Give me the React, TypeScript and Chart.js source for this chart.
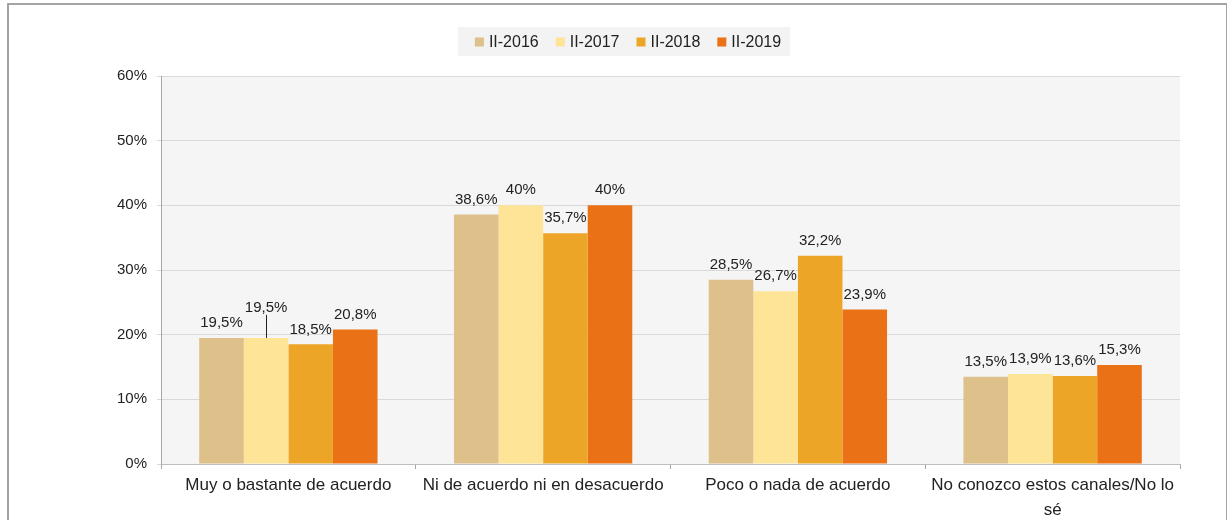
import React, { useEffect, useRef } from "react";
import { Chart, registerables } from "chart.js";

Chart.register(...registerables);

const categories: (string | string[])[] = [
  "Muy o bastante de acuerdo",
  "Ni de acuerdo ni en desacuerdo",
  "Poco o nada de acuerdo",
  ["No conozco estos canales/No lo", "sé"],
];
const seriesNames = ["II-2016", "II-2017", "II-2018", "II-2019"];
const s2016 = [19.5, 38.6, 28.5, 13.5];
const s2017 = [19.5, 40, 26.7, 13.9];
const s2018 = [18.5, 35.7, 32.2, 13.6];
const s2019 = [20.8, 40, 23.9, 15.3];
const yTicks = [0, 10, 20, 30, 40, 50, 60];

const COLORS = ["#DEC08A", "#FEE497", "#EDA528", "#EB7116"];
// extra lift (px) for labels that sit on a leader line: [series][category]
const LABEL_LIFT = [
  [0, 0, 0, 0],
  [15, 0, 0, 0],
  [0, 0, 0, 0],
  [0, 0, 0, 0],
];
const FONT = "'Liberation Sans', Arial, sans-serif";

const fmt = (v: number) => String(v).replace(".", ",") + "%";

const bgPlugin = {
  id: "bgPlugin",
  beforeDraw(chart: any) {
    const { ctx, chartArea } = chart;
    ctx.save();
    ctx.fillStyle = "#ffffff";
    ctx.fillRect(0, 0, chart.width, chart.height);
    ctx.fillStyle = "#f5f5f5";
    ctx.fillRect(chartArea.left, chartArea.top, chartArea.right - chartArea.left, chartArea.bottom - chartArea.top);
    // legend
    ctx.font = `16px ${FONT}`;
    const box = 9, gap = 5, itemGap = 17;
    const widths = seriesNames.map((n) => ctx.measureText(n).width);
    const total = widths.reduce((a, w) => a + box + gap + w, 0) + itemGap * (seriesNames.length - 1);
    const cx = 628;
    let x = cx - total / 2;
    const cy = 42;
    ctx.fillStyle = "#f3f3f3";
    ctx.fillRect(x - 17, 27, total + 26, 29);
    ctx.textBaseline = "middle";
    ctx.textAlign = "left";
    seriesNames.forEach((n, i) => {
      ctx.fillStyle = COLORS[i];
      ctx.fillRect(x, cy - box / 2, box, box);
      x += box + gap;
      ctx.fillStyle = "#222222";
      ctx.fillText(n, x, cy + 1);
      x += widths[i] + itemGap;
    });
    ctx.restore();
  },
};

const labelPlugin = {
  id: "labelPlugin",
  afterDatasetsDraw(chart: any) {
    const { ctx } = chart;
    ctx.save();
    ctx.font = `15px ${FONT}`;
    ctx.fillStyle = "#222222";
    ctx.textAlign = "center";
    ctx.textBaseline = "middle";
    chart.data.datasets.forEach((ds: any, di: number) => {
      const meta = chart.getDatasetMeta(di);
      meta.data.forEach((bar: any, i: number) => {
        const lift = LABEL_LIFT[di][i];
        const ly = bar.y - 15 - lift;
        if (lift > 0) {
          ctx.strokeStyle = "#222222";
          ctx.lineWidth = 1;
          ctx.beginPath();
          ctx.moveTo(Math.round(bar.x) + 0.5, ly + 7);
          ctx.lineTo(Math.round(bar.x) + 0.5, bar.y);
          ctx.stroke();
        }
        ctx.fillText(fmt(ds.data[i]), bar.x, ly);
      });
    });
    ctx.restore();
  },
};

export default function App() {
  const ref = useRef<HTMLCanvasElement | null>(null);
  useEffect(() => {
    if (!ref.current) return;
    const series = [s2016, s2017, s2018, s2019];
    const chart = new Chart(ref.current, {
      type: "bar",
      data: {
        labels: categories,
        datasets: seriesNames.map((n, i) => ({
          label: n,
          data: series[i],
          backgroundColor: COLORS[i],
          borderWidth: 0,
          categoryPercentage: 0.7,
          barPercentage: 1,
        })),
      },
      options: {
        responsive: false,
        animation: false,
        layout: { padding: { left: 0, right: 47, top: 76, bottom: 0 } },
        plugins: { legend: { display: false }, tooltip: { enabled: false }, title: { display: false } },
        scales: {
          x: {
            afterFit: (s: any) => { s.height = 56; },
            grid: { display: true, drawOnChartArea: false, drawTicks: true, tickLength: 5, color: "#a6a6a6", offset: true },
            border: { display: true, color: "#bdbdbd", width: 1 },
            ticks: { color: "#222222", font: { family: FONT, size: 17, lineHeight: 1.45 }, padding: 4, maxRotation: 0, autoSkip: false },
          },
          y: {
            min: 0,
            max: 60,
            afterFit: (s: any) => { s.width = 161; },
            afterBuildTicks: (s: any) => { s.ticks = yTicks.map((v) => ({ value: v })); },
            grid: { color: "#d9d9d9", drawTicks: true, tickLength: 4 },
            border: { display: true, color: "#a6a6a6", width: 1 },
            ticks: { color: "#222222", font: { family: FONT, size: 15 }, padding: 10, callback: (v: any) => v + "%" },
          },
        },
      },
      plugins: [bgPlugin, labelPlugin],
    } as any);
    return () => chart.destroy();
  }, []);
  return (
    <div style={{ position: "fixed", left: 0, top: 0, width: 1227, height: 520, background: "#fff", overflow: "hidden" }}>
      <canvas ref={ref} width={1227} height={520} style={{ position: "absolute", left: 0, top: 0, width: 1227, height: 520 }} />
      <div style={{ position: "absolute", left: 7, top: 3, width: 1217, height: 600, border: "2px solid #a3a3a3", pointerEvents: "none" }} />
    </div>
  );
}
